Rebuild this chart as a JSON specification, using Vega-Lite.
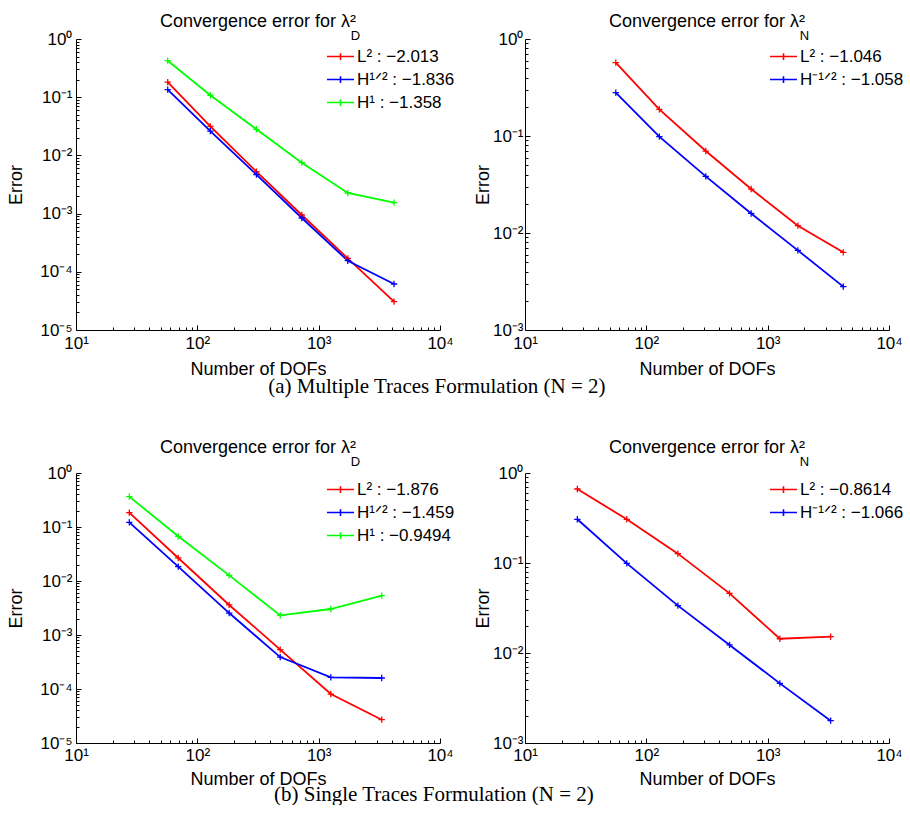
{
  "$schema": "https://vega.github.io/schema/vega-lite/v6.json",
  "padding": {"left": 7, "top": 13, "right": 0, "bottom": 0},
  "background": "white",
  "config": {
    "view": {"stroke": null},
    "font": "Liberation Sans",
    "axis": {"domainColor": "#000", "tickColor": "#000", "labelColor": "#000", "titleColor": "#000", "grid": false, "labelFontSize": 17, "titleFontSize": 18, "titleFontWeight": "normal", "labelFont": "Liberation Sans", "titleFont": "Liberation Sans", "domainWidth": 1, "tickWidth": 1, "labelFlush": false},
    "title": {"fontSize": 18, "font": "Liberation Sans", "fontWeight": "normal", "color": "#000", "subtitleFontSize": 13, "subtitleFont": "Liberation Sans", "subtitleColor": "#000", "subtitlePadding": -1, "offset": -13},
    "legend": {"labelFont": "Liberation Sans", "labelFontSize": 17, "labelColor": "#000"}
  },
  "datasets": {
    "a1": [
      {"series": "L² : −2.013", "dofs": 57, "error": 0.182},
      {"series": "L² : −2.013", "dofs": 128, "error": 0.0316},
      {"series": "L² : −2.013", "dofs": 307, "error": 0.00525},
      {"series": "L² : −2.013", "dofs": 726, "error": 0.000946},
      {"series": "L² : −2.013", "dofs": 1737, "error": 0.00017},
      {"series": "L² : −2.013", "dofs": 4180, "error": 0.0000307},
      {"series": "H¹ᐟ² : −1.836", "dofs": 57, "error": 0.135},
      {"series": "H¹ᐟ² : −1.836", "dofs": 128, "error": 0.0262},
      {"series": "H¹ᐟ² : −1.836", "dofs": 307, "error": 0.00467},
      {"series": "H¹ᐟ² : −1.836", "dofs": 726, "error": 0.00084},
      {"series": "H¹ᐟ² : −1.836", "dofs": 1737, "error": 0.000155},
      {"series": "H¹ᐟ² : −1.836", "dofs": 4180, "error": 0.0000617},
      {"series": "H¹ : −1.358", "dofs": 57, "error": 0.424},
      {"series": "H¹ : −1.358", "dofs": 128, "error": 0.108},
      {"series": "H¹ : −1.358", "dofs": 307, "error": 0.0281},
      {"series": "H¹ : −1.358", "dofs": 726, "error": 0.0075},
      {"series": "H¹ : −1.358", "dofs": 1737, "error": 0.00226},
      {"series": "H¹ : −1.358", "dofs": 4180, "error": 0.00154}
    ],
    "a2": [
      {"series": "L² : −1.046", "dofs": 56, "error": 0.57},
      {"series": "L² : −1.046", "dofs": 128, "error": 0.188},
      {"series": "L² : −1.046", "dofs": 309, "error": 0.07},
      {"series": "L² : −1.046", "dofs": 731, "error": 0.0284},
      {"series": "L² : −1.046", "dofs": 1774, "error": 0.0119},
      {"series": "L² : −1.046", "dofs": 4198, "error": 0.00632},
      {"series": "H⁻¹ᐟ² : −1.058", "dofs": 56, "error": 0.28},
      {"series": "H⁻¹ᐟ² : −1.058", "dofs": 128, "error": 0.0985},
      {"series": "H⁻¹ᐟ² : −1.058", "dofs": 309, "error": 0.0384},
      {"series": "H⁻¹ᐟ² : −1.058", "dofs": 731, "error": 0.0159},
      {"series": "H⁻¹ᐟ² : −1.058", "dofs": 1774, "error": 0.00662},
      {"series": "H⁻¹ᐟ² : −1.058", "dofs": 4198, "error": 0.0028}
    ],
    "b1": [
      {"series": "L² : −1.876", "dofs": 27.5, "error": 0.184},
      {"series": "L² : −1.876", "dofs": 69.6, "error": 0.0267},
      {"series": "L² : −1.876", "dofs": 183, "error": 0.0036},
      {"series": "L² : −1.876", "dofs": 482, "error": 0.000537},
      {"series": "L² : −1.876", "dofs": 1259, "error": 0.0000807},
      {"series": "L² : −1.876", "dofs": 3311, "error": 0.000027},
      {"series": "H¹ᐟ² : −1.459", "dofs": 27.5, "error": 0.122},
      {"series": "H¹ᐟ² : −1.459", "dofs": 69.6, "error": 0.0184},
      {"series": "H¹ᐟ² : −1.459", "dofs": 183, "error": 0.00255},
      {"series": "H¹ᐟ² : −1.459", "dofs": 482, "error": 0.00039},
      {"series": "H¹ᐟ² : −1.459", "dofs": 1259, "error": 0.000164},
      {"series": "H¹ᐟ² : −1.459", "dofs": 3311, "error": 0.00016},
      {"series": "H¹ : −0.9494", "dofs": 27.5, "error": 0.365},
      {"series": "H¹ : −0.9494", "dofs": 69.6, "error": 0.0672},
      {"series": "H¹ : −0.9494", "dofs": 183, "error": 0.0127},
      {"series": "H¹ : −0.9494", "dofs": 482, "error": 0.00231},
      {"series": "H¹ : −0.9494", "dofs": 1259, "error": 0.00303},
      {"series": "H¹ : −0.9494", "dofs": 3311, "error": 0.00535}
    ],
    "b2": [
      {"series": "L² : −0.8614", "dofs": 27, "error": 0.664},
      {"series": "L² : −0.8614", "dofs": 69, "error": 0.306},
      {"series": "L² : −0.8614", "dofs": 182, "error": 0.127},
      {"series": "L² : −0.8614", "dofs": 485, "error": 0.046},
      {"series": "L² : −0.8614", "dofs": 1260, "error": 0.0144},
      {"series": "L² : −0.8614", "dofs": 3304, "error": 0.0152},
      {"series": "H⁻¹ᐟ² : −1.066", "dofs": 27, "error": 0.306},
      {"series": "H⁻¹ᐟ² : −1.066", "dofs": 69, "error": 0.0991},
      {"series": "H⁻¹ᐟ² : −1.066", "dofs": 182, "error": 0.0336},
      {"series": "H⁻¹ᐟ² : −1.066", "dofs": 485, "error": 0.0123},
      {"series": "H⁻¹ᐟ² : −1.066", "dofs": 1260, "error": 0.0046},
      {"series": "H⁻¹ᐟ² : −1.066", "dofs": 3304, "error": 0.00177}
    ]
  },
  "spacing": 42,
  "resolve": {"scale": {"color": "independent"}},
  "vconcat": [
    {
      "title": {"text": "(a) Multiple Traces Formulation (N = 2)", "orient": "bottom", "font": "Liberation Serif", "fontSize": 21, "offset": -2, "frame": "bounds", "anchor": "middle", "dx": -19},
      "spacing": 19,
      "resolve": {"scale": {"color": "independent"}},
      "hconcat": [
        {
          "width": 364, "height": 291,
          "title": {"text": "Convergence error for λ²", "subtitle": "\u200B\u2003\u2003\u2003\u2003\u2003\u2003\u2003\u2003\u2003\u2003\u2003\u2003\u2003\u2003\u2003D"},
          "data": {"name": "a1"},
          "resolve": {"axis": {"x": "independent", "y": "independent"}},
          "layer": [
            {
              "mark": {"type": "line", "strokeWidth": 1.8},
              "encoding": {
                "x": {"field": "dofs", "type": "quantitative", "scale": {"type": "log", "domain": [10, 10000], "nice": false},
                  "axis": {"orient": "bottom", "values": [10, 100, 1000, 10000], "labelExpr": "'10' + ['⁻⁵','⁻⁴','⁻³','⁻²','⁻¹','⁰','¹','²','³','⁴'][round(log(datum.value)/LN10)+5]", "title": "Number of DOFs", "tickSize": -5, "labelPadding": 10, "titlePadding": 9}},
                "y": {"field": "error", "type": "quantitative", "scale": {"type": "log", "domain": [0.00001, 1], "nice": false},
                  "axis": {"orient": "left", "values": [0.00001, 0.0001, 0.001, 0.01, 0.1, 1], "labelExpr": "'10' + ['⁻⁵','⁻⁴','⁻³','⁻²','⁻¹','⁰','¹','²','³','⁴'][round(log(datum.value)/LN10)+5]", "title": "Error", "tickSize": -5, "labelPadding": 9, "titlePadding": 14}},
                "color": {"field": "series", "type": "nominal",
                  "scale": {"domain": ["L² : −2.013", "H¹ᐟ² : −1.836", "H¹ : −1.358"], "range": ["#ff0000", "#0000ff", "#00ff00"]},
                  "legend": {"orient": "none", "legendX": 250, "legendY": 3, "title": null, "padding": 0, "symbolType": "M-1,0H1M0,-0.25V0.25", "symbolSize": 729, "symbolStrokeWidth": 1.6, "rowPadding": -11, "labelOffset": 2}}
              }
            },
            {
              "mark": {"type": "point", "shape": "M-1,0H1M0,-1V1", "filled": false, "strokeWidth": 1.3, "size": 40, "opacity": 1},
              "encoding": {
                "x": {"field": "dofs", "type": "quantitative", "scale": {"type": "log"},
                  "axis": {"orient": "bottom", "values": [20,30,40,50,60,70,80,90,200,300,400,500,600,700,800,900,2000,3000,4000,5000,6000,7000,8000,9000], "labels": false, "domain": false, "title": null, "tickSize": -3}},
                "y": {"field": "error", "type": "quantitative", "scale": {"type": "log"},
                  "axis": {"orient": "left", "values": [0.00002,0.00003,0.00004,0.00005,0.00006,0.00007,0.00008,0.00009,0.0002,0.0003,0.0004,0.0005,0.0006,0.0007,0.0008,0.0009,0.002,0.003,0.004,0.005,0.006,0.007,0.008,0.009,0.02,0.03,0.04,0.05,0.06,0.07,0.08,0.09,0.2,0.3,0.4,0.5,0.6,0.7,0.8,0.9], "labels": false, "domain": false, "title": null, "tickSize": -3}},
                "color": {"field": "series", "type": "nominal"}
              }
            }
          ]
        },
        {
          "width": 364, "height": 291,
          "title": {"text": "Convergence error for λ²", "subtitle": "\u200B\u2003\u2003\u2003\u2003\u2003\u2003\u2003\u2003\u2003\u2003\u2003\u2003\u2003\u2003\u2003N"},
          "data": {"name": "a2"},
          "resolve": {"axis": {"x": "independent", "y": "independent"}},
          "layer": [
            {
              "mark": {"type": "line", "strokeWidth": 1.8},
              "encoding": {
                "x": {"field": "dofs", "type": "quantitative", "scale": {"type": "log", "domain": [10, 10000], "nice": false},
                  "axis": {"orient": "bottom", "values": [10, 100, 1000, 10000], "labelExpr": "'10' + ['⁻⁵','⁻⁴','⁻³','⁻²','⁻¹','⁰','¹','²','³','⁴'][round(log(datum.value)/LN10)+5]", "title": "Number of DOFs", "tickSize": -5, "labelPadding": 10, "titlePadding": 9}},
                "y": {"field": "error", "type": "quantitative", "scale": {"type": "log", "domain": [0.001, 1], "nice": false},
                  "axis": {"orient": "left", "values": [0.001, 0.01, 0.1, 1], "labelExpr": "'10' + ['⁻⁵','⁻⁴','⁻³','⁻²','⁻¹','⁰','¹','²','³','⁴'][round(log(datum.value)/LN10)+5]", "title": "Error", "tickSize": -5, "labelPadding": 7, "titlePadding": 0}},
                "color": {"field": "series", "type": "nominal",
                  "scale": {"domain": ["L² : −1.046", "H⁻¹ᐟ² : −1.058"], "range": ["#ff0000", "#0000ff"]},
                  "legend": {"orient": "none", "legendX": 244, "legendY": 3, "title": null, "padding": 0, "symbolType": "M-1,0H1M0,-0.25V0.25", "symbolSize": 729, "symbolStrokeWidth": 1.6, "rowPadding": -11, "labelOffset": 2}}
              }
            },
            {
              "mark": {"type": "point", "shape": "M-1,0H1M0,-1V1", "filled": false, "strokeWidth": 1.3, "size": 40, "opacity": 1},
              "encoding": {
                "x": {"field": "dofs", "type": "quantitative", "scale": {"type": "log"},
                  "axis": {"orient": "bottom", "values": [20,30,40,50,60,70,80,90,200,300,400,500,600,700,800,900,2000,3000,4000,5000,6000,7000,8000,9000], "labels": false, "domain": false, "title": null, "tickSize": -3}},
                "y": {"field": "error", "type": "quantitative", "scale": {"type": "log"},
                  "axis": {"orient": "left", "values": [0.002,0.003,0.004,0.005,0.006,0.007,0.008,0.009,0.02,0.03,0.04,0.05,0.06,0.07,0.08,0.09,0.2,0.3,0.4,0.5,0.6,0.7,0.8,0.9], "labels": false, "domain": false, "title": null, "tickSize": -3}},
                "color": {"field": "series", "type": "nominal"}
              }
            }
          ]
        }
      ]
    },
    {
      "title": {"text": "(b) Single Traces Formulation (N = 2)", "orient": "bottom", "font": "Liberation Serif", "fontSize": 21, "offset": -4, "frame": "bounds", "anchor": "middle", "dx": -22},
      "spacing": 19,
      "resolve": {"scale": {"color": "independent"}},
      "hconcat": [
        {
          "width": 364, "height": 270,
          "title": {"text": "Convergence error for λ²", "subtitle": "\u200B\u2003\u2003\u2003\u2003\u2003\u2003\u2003\u2003\u2003\u2003\u2003\u2003\u2003\u2003\u2003D", "offset": -5},
          "data": {"name": "b1"},
          "resolve": {"axis": {"x": "independent", "y": "independent"}},
          "layer": [
            {
              "mark": {"type": "line", "strokeWidth": 1.8},
              "encoding": {
                "x": {"field": "dofs", "type": "quantitative", "scale": {"type": "log", "domain": [10, 10000], "nice": false},
                  "axis": {"orient": "bottom", "values": [10, 100, 1000, 10000], "labelExpr": "'10' + ['⁻⁵','⁻⁴','⁻³','⁻²','⁻¹','⁰','¹','²','³','⁴'][round(log(datum.value)/LN10)+5]", "title": "Number of DOFs", "tickSize": -5, "labelPadding": 9, "titlePadding": 7}},
                "y": {"field": "error", "type": "quantitative", "scale": {"type": "log", "domain": [0.00001, 1], "nice": false},
                  "axis": {"orient": "left", "values": [0.00001, 0.0001, 0.001, 0.01, 0.1, 1], "labelExpr": "'10' + ['⁻⁵','⁻⁴','⁻³','⁻²','⁻¹','⁰','¹','²','³','⁴'][round(log(datum.value)/LN10)+5]", "title": "Error", "tickSize": -5, "labelPadding": 9, "titlePadding": 14}},
                "color": {"field": "series", "type": "nominal",
                  "scale": {"domain": ["L² : −1.876", "H¹ᐟ² : −1.459", "H¹ : −0.9494"], "range": ["#ff0000", "#0000ff", "#00ff00"]},
                  "legend": {"orient": "none", "legendX": 250, "legendY": 2, "title": null, "padding": 0, "symbolType": "M-1,0H1M0,-0.25V0.25", "symbolSize": 729, "symbolStrokeWidth": 1.6, "rowPadding": -11, "labelOffset": 2}}
              }
            },
            {
              "mark": {"type": "point", "shape": "M-1,0H1M0,-1V1", "filled": false, "strokeWidth": 1.3, "size": 40, "opacity": 1},
              "encoding": {
                "x": {"field": "dofs", "type": "quantitative", "scale": {"type": "log"},
                  "axis": {"orient": "bottom", "values": [20,30,40,50,60,70,80,90,200,300,400,500,600,700,800,900,2000,3000,4000,5000,6000,7000,8000,9000], "labels": false, "domain": false, "title": null, "tickSize": -3}},
                "y": {"field": "error", "type": "quantitative", "scale": {"type": "log"},
                  "axis": {"orient": "left", "values": [0.00002,0.00003,0.00004,0.00005,0.00006,0.00007,0.00008,0.00009,0.0002,0.0003,0.0004,0.0005,0.0006,0.0007,0.0008,0.0009,0.002,0.003,0.004,0.005,0.006,0.007,0.008,0.009,0.02,0.03,0.04,0.05,0.06,0.07,0.08,0.09,0.2,0.3,0.4,0.5,0.6,0.7,0.8,0.9], "labels": false, "domain": false, "title": null, "tickSize": -3}},
                "color": {"field": "series", "type": "nominal"}
              }
            }
          ]
        },
        {
          "width": 364, "height": 270,
          "title": {"text": "Convergence error for λ²", "subtitle": "\u200B\u2003\u2003\u2003\u2003\u2003\u2003\u2003\u2003\u2003\u2003\u2003\u2003\u2003\u2003\u2003N", "offset": -5},
          "data": {"name": "b2"},
          "resolve": {"axis": {"x": "independent", "y": "independent"}},
          "layer": [
            {
              "mark": {"type": "line", "strokeWidth": 1.8},
              "encoding": {
                "x": {"field": "dofs", "type": "quantitative", "scale": {"type": "log", "domain": [10, 10000], "nice": false},
                  "axis": {"orient": "bottom", "values": [10, 100, 1000, 10000], "labelExpr": "'10' + ['⁻⁵','⁻⁴','⁻³','⁻²','⁻¹','⁰','¹','²','³','⁴'][round(log(datum.value)/LN10)+5]", "title": "Number of DOFs", "tickSize": -5, "labelPadding": 9, "titlePadding": 7}},
                "y": {"field": "error", "type": "quantitative", "scale": {"type": "log", "domain": [0.001, 1], "nice": false},
                  "axis": {"orient": "left", "values": [0.001, 0.01, 0.1, 1], "labelExpr": "'10' + ['⁻⁵','⁻⁴','⁻³','⁻²','⁻¹','⁰','¹','²','³','⁴'][round(log(datum.value)/LN10)+5]", "title": "Error", "tickSize": -5, "labelPadding": 7, "titlePadding": 0}},
                "color": {"field": "series", "type": "nominal",
                  "scale": {"domain": ["L² : −0.8614", "H⁻¹ᐟ² : −1.066"], "range": ["#ff0000", "#0000ff"]},
                  "legend": {"orient": "none", "legendX": 244, "legendY": 2, "title": null, "padding": 0, "symbolType": "M-1,0H1M0,-0.25V0.25", "symbolSize": 729, "symbolStrokeWidth": 1.6, "rowPadding": -11, "labelOffset": 2}}
              }
            },
            {
              "mark": {"type": "point", "shape": "M-1,0H1M0,-1V1", "filled": false, "strokeWidth": 1.3, "size": 40, "opacity": 1},
              "encoding": {
                "x": {"field": "dofs", "type": "quantitative", "scale": {"type": "log"},
                  "axis": {"orient": "bottom", "values": [20,30,40,50,60,70,80,90,200,300,400,500,600,700,800,900,2000,3000,4000,5000,6000,7000,8000,9000], "labels": false, "domain": false, "title": null, "tickSize": -3}},
                "y": {"field": "error", "type": "quantitative", "scale": {"type": "log"},
                  "axis": {"orient": "left", "values": [0.002,0.003,0.004,0.005,0.006,0.007,0.008,0.009,0.02,0.03,0.04,0.05,0.06,0.07,0.08,0.09,0.2,0.3,0.4,0.5,0.6,0.7,0.8,0.9], "labels": false, "domain": false, "title": null, "tickSize": -3}},
                "color": {"field": "series", "type": "nominal"}
              }
            }
          ]
        }
      ]
    }
  ]
}
